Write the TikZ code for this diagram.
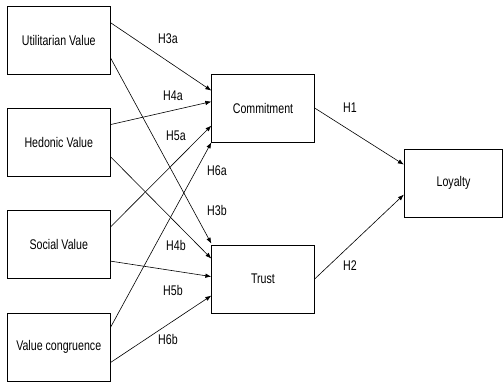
\documentclass[tikz,border=0pt]{standalone}
\usepackage{fontspec}
\setmainfont[FakeStretch=0.76]{Liberation Sans}
\usetikzlibrary{arrows.meta}
\begin{document}
\begin{tikzpicture}[x=1pt,y=-1pt,
  box/.style={draw, line width=0.8pt, minimum width=102.5pt, minimum height=68pt, inner sep=0pt, font=\fontsize{14}{16}\selectfont},
  lbl/.style={font=\fontsize{14}{16}\selectfont, inner sep=0pt},
  arr/.style={line width=0.6pt, -{Latex[length=6pt,width=4.5pt]}}]
\useasboundingbox (0,0) rectangle (503,383);
\node[box] (uv) at (58.75,40) {Utilitarian Value};
\node[box] (hv) at (58.75,142) {Hedonic Value};
\node[box] (sv) at (58.75,244.5) {Social Value};
\node[box] (vc) at (58.75,347) {Value congruence};
\node[box] (cm) at (263,108) {Commitment};
\node[box] (tr) at (263,279) {Trust};
\node[box, minimum width=98.5pt] (ly) at (453.5,183) {Loyalty};
% connectors
\draw[arr] ([yshift=-17pt]uv.north east) -- ([yshift=-17pt]cm.north west);
\draw[arr] ([yshift=-52pt]uv.north east) -- ([yshift=1pt]tr.north west);
\draw[arr] ([yshift=-17pt]hv.north east) -- ([yshift=-28pt]cm.north west);
\draw[arr] ([yshift=-49pt]hv.north east) -- ([yshift=-14pt]tr.north west);
\draw[arr] ([yshift=-17pt]sv.north east) -- ([yshift=-52pt]cm.north west);
\draw[arr] ([yshift=-51pt]sv.north east) -- ([yshift=-32pt]tr.north west);
\draw[arr] ([yshift=-15pt]vc.north east) -- (cm.south west);
\draw[arr] ([yshift=-50pt]vc.north east) -- ([yshift=-51pt]tr.north west);
\draw[arr] (cm.east) -- ([yshift=-16pt]ly.north west);
\draw[arr] (tr.east) -- ([yshift=-46pt]ly.north west);
% labels
\node[lbl] (h3a) at (168,39) {H3a};
\node[lbl] (h4a) at (173,96) {H4a};
\node[lbl] (h5a) at (176,136) {H5a};
\node[lbl] (h6a) at (217,171) {H6a};
\node[lbl] (h3b) at (217,210) {H3b};
\node[lbl] (h4b) at (176,245) {H4b};
\node[lbl] (h5b) at (173,290) {H5b};
\node[lbl] (h6b) at (168,339) {H6b};
\node[lbl] (h1) at (350,108) {H1};
\node[lbl] (h2) at (350,266) {H2};
\end{tikzpicture}
\end{document}
